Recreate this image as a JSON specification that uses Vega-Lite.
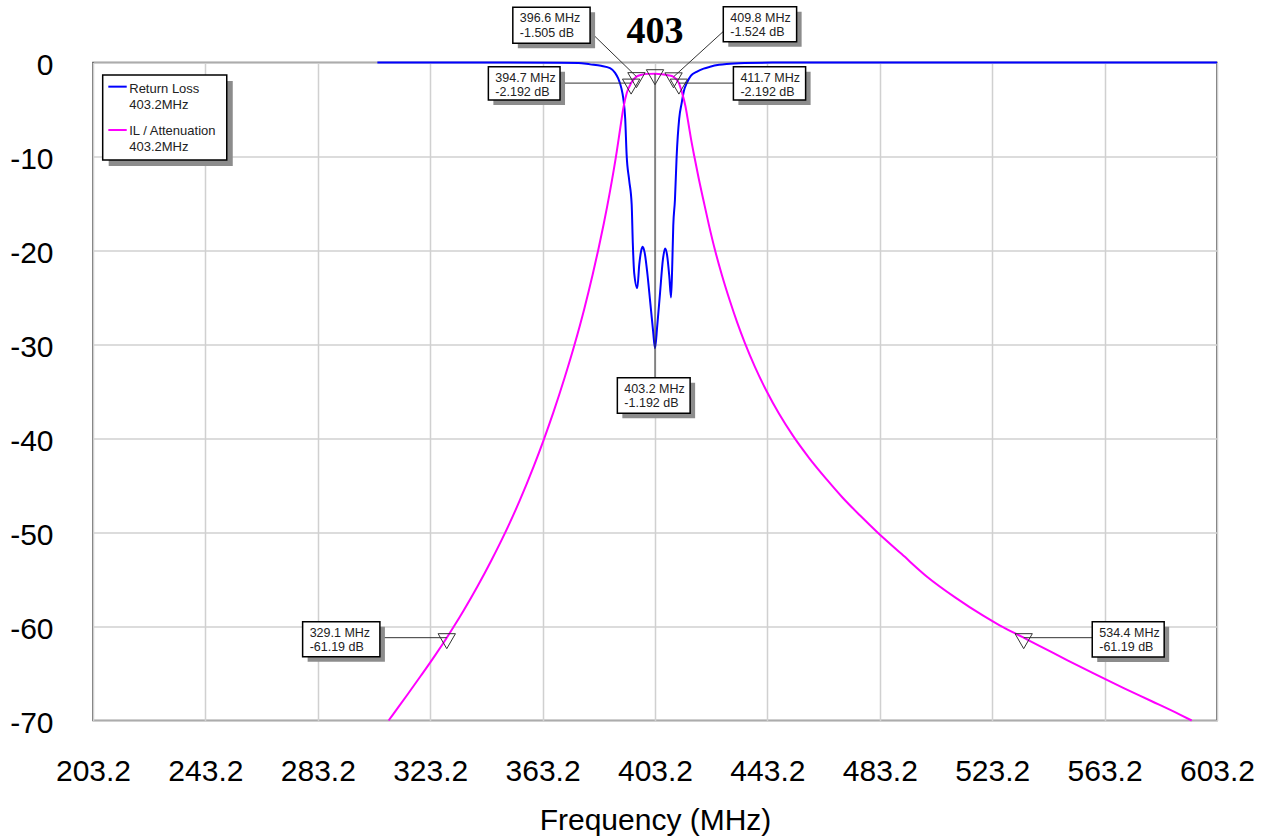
{
  "$schema": "https://vega.github.io/schema/vega-lite/v6.json",
  "width": 1124,
  "height": 658,
  "autosize": {"type": "none"},
  "padding": {"left": 93, "top": 62.5, "right": 54, "bottom": 118.5},
  "background": "white",
  "title": {"text": "403", "font": "Liberation Serif", "fontSize": 38, "fontWeight": "bold", "color": "black", "anchor": "middle", "frame": "group", "offset": -45},
  "config": {
    "view": {"stroke": "#404040", "strokeWidth": 1.5},
    "font": "Liberation Sans",
    "axisX": {"titleFontSize": 30, "titleFontWeight": "normal", "titleColor": "black", "titleFont": "Liberation Sans", "titlePadding": 19, "labelFontSize": 30, "labelFont": "Liberation Sans", "labelColor": "black", "labelPadding": 36, "labelFlush": false, "labelOverlap": false, "ticks": false, "domain": false, "grid": true, "gridColor": "#d0d0d0", "gridWidth": 1.5},
    "axisY": {"labelFontSize": 30, "labelFont": "Liberation Sans", "labelColor": "black", "labelPadding": 40, "labelOffset": 3, "labelOverlap": false, "ticks": false, "domain": false, "grid": true, "gridColor": "#d0d0d0", "gridWidth": 1.5}
  },
  "datasets": {
    "curves": [
      {"series": "Return Loss", "f": 304.4, "db": 0},
      {"series": "Return Loss", "f": 370.0, "db": -0.02},
      {"series": "Return Loss", "f": 376.0, "db": -0.05},
      {"series": "Return Loss", "f": 380.1, "db": -0.2},
      {"series": "Return Loss", "f": 384.0, "db": -0.35},
      {"series": "Return Loss", "f": 387.2, "db": -0.6},
      {"series": "Return Loss", "f": 389.0, "db": -1.1},
      {"series": "Return Loss", "f": 390.1, "db": -1.7},
      {"series": "Return Loss", "f": 391.2, "db": -2.7},
      {"series": "Return Loss", "f": 391.9, "db": -3.8},
      {"series": "Return Loss", "f": 392.6, "db": -6.0},
      {"series": "Return Loss", "f": 393.1, "db": -9.8},
      {"series": "Return Loss", "f": 394.0, "db": -12.5},
      {"series": "Return Loss", "f": 394.9, "db": -15.1},
      {"series": "Return Loss", "f": 395.3, "db": -19.2},
      {"series": "Return Loss", "f": 395.8, "db": -22.4},
      {"series": "Return Loss", "f": 396.9, "db": -24.0},
      {"series": "Return Loss", "f": 397.6, "db": -21.5},
      {"series": "Return Loss", "f": 398.3, "db": -20.0},
      {"series": "Return Loss", "f": 398.8, "db": -19.6},
      {"series": "Return Loss", "f": 399.5, "db": -20.2},
      {"series": "Return Loss", "f": 400.5, "db": -22.5},
      {"series": "Return Loss", "f": 401.5, "db": -25.5},
      {"series": "Return Loss", "f": 402.5, "db": -28.5},
      {"series": "Return Loss", "f": 403.2, "db": -30.4},
      {"series": "Return Loss", "f": 404.0, "db": -28.0},
      {"series": "Return Loss", "f": 405.0, "db": -24.5},
      {"series": "Return Loss", "f": 406.0, "db": -21.0},
      {"series": "Return Loss", "f": 406.8, "db": -19.8},
      {"series": "Return Loss", "f": 407.5, "db": -20.5},
      {"series": "Return Loss", "f": 408.3, "db": -22.8},
      {"series": "Return Loss", "f": 408.9, "db": -25.0},
      {"series": "Return Loss", "f": 409.3, "db": -22.0},
      {"series": "Return Loss", "f": 409.7, "db": -17.4},
      {"series": "Return Loss", "f": 410.3, "db": -14.6},
      {"series": "Return Loss", "f": 410.9, "db": -10.0},
      {"series": "Return Loss", "f": 411.8, "db": -6.0},
      {"series": "Return Loss", "f": 412.7, "db": -4.3},
      {"series": "Return Loss", "f": 413.5, "db": -3.0},
      {"series": "Return Loss", "f": 414.5, "db": -2.2},
      {"series": "Return Loss", "f": 416.0, "db": -1.4},
      {"series": "Return Loss", "f": 418.0, "db": -1.0},
      {"series": "Return Loss", "f": 420.5, "db": -0.65},
      {"series": "Return Loss", "f": 422.8, "db": -0.45},
      {"series": "Return Loss", "f": 426.0, "db": -0.25},
      {"series": "Return Loss", "f": 428.7, "db": -0.15},
      {"series": "Return Loss", "f": 435.0, "db": -0.05},
      {"series": "Return Loss", "f": 445.0, "db": -0.01},
      {"series": "Return Loss", "f": 603.2, "db": 0},
      {"series": "IL / Attenuation", "f": 308.4, "db": -70.0},
      {"series": "IL / Attenuation", "f": 310.0, "db": -69.34},
      {"series": "IL / Attenuation", "f": 315.0, "db": -67.29},
      {"series": "IL / Attenuation", "f": 320.0, "db": -65.19},
      {"series": "IL / Attenuation", "f": 325.0, "db": -63.04},
      {"series": "IL / Attenuation", "f": 329.1, "db": -61.19},
      {"series": "IL / Attenuation", "f": 331.5, "db": -60.06},
      {"series": "IL / Attenuation", "f": 335.0, "db": -58.35},
      {"series": "IL / Attenuation", "f": 340.0, "db": -55.75},
      {"series": "IL / Attenuation", "f": 345.0, "db": -52.95},
      {"series": "IL / Attenuation", "f": 349.8, "db": -50.07},
      {"series": "IL / Attenuation", "f": 355.0, "db": -46.64},
      {"series": "IL / Attenuation", "f": 360.0, "db": -42.99},
      {"series": "IL / Attenuation", "f": 363.5, "db": -40.22},
      {"series": "IL / Attenuation", "f": 367.0, "db": -37.25},
      {"series": "IL / Attenuation", "f": 371.0, "db": -33.57},
      {"series": "IL / Attenuation", "f": 374.7, "db": -29.87},
      {"series": "IL / Attenuation", "f": 378.0, "db": -26.24},
      {"series": "IL / Attenuation", "f": 381.0, "db": -22.58},
      {"series": "IL / Attenuation", "f": 383.0, "db": -19.94},
      {"series": "IL / Attenuation", "f": 385.0, "db": -17.1},
      {"series": "IL / Attenuation", "f": 387.0, "db": -14.0},
      {"series": "IL / Attenuation", "f": 389.6, "db": -9.45},
      {"series": "IL / Attenuation", "f": 390.8, "db": -7.05},
      {"series": "IL / Attenuation", "f": 391.9, "db": -4.9},
      {"series": "IL / Attenuation", "f": 393.2, "db": -3.2},
      {"series": "IL / Attenuation", "f": 394.7, "db": -2.192},
      {"series": "IL / Attenuation", "f": 396.6, "db": -1.505},
      {"series": "IL / Attenuation", "f": 398.5, "db": -1.3},
      {"series": "IL / Attenuation", "f": 400.7, "db": -1.21},
      {"series": "IL / Attenuation", "f": 403.2, "db": -1.192},
      {"series": "IL / Attenuation", "f": 405.7, "db": -1.24},
      {"series": "IL / Attenuation", "f": 407.9, "db": -1.36},
      {"series": "IL / Attenuation", "f": 409.8, "db": -1.524},
      {"series": "IL / Attenuation", "f": 411.7, "db": -2.192},
      {"series": "IL / Attenuation", "f": 412.9, "db": -3.3},
      {"series": "IL / Attenuation", "f": 414.0, "db": -4.6},
      {"series": "IL / Attenuation", "f": 415.0, "db": -6.3},
      {"series": "IL / Attenuation", "f": 416.0, "db": -8.1},
      {"series": "IL / Attenuation", "f": 417.2, "db": -10.0},
      {"series": "IL / Attenuation", "f": 418.8, "db": -12.4},
      {"series": "IL / Attenuation", "f": 420.4, "db": -14.6},
      {"series": "IL / Attenuation", "f": 422.4, "db": -17.3},
      {"series": "IL / Attenuation", "f": 424.5, "db": -19.9},
      {"series": "IL / Attenuation", "f": 427.0, "db": -22.6},
      {"series": "IL / Attenuation", "f": 429.9, "db": -25.4},
      {"series": "IL / Attenuation", "f": 432.5, "db": -27.7},
      {"series": "IL / Attenuation", "f": 435.2, "db": -29.85},
      {"series": "IL / Attenuation", "f": 438.8, "db": -32.4},
      {"series": "IL / Attenuation", "f": 442.9, "db": -34.95},
      {"series": "IL / Attenuation", "f": 447.3, "db": -37.35},
      {"series": "IL / Attenuation", "f": 452.4, "db": -39.75},
      {"series": "IL / Attenuation", "f": 458.0, "db": -42.05},
      {"series": "IL / Attenuation", "f": 464.3, "db": -44.35},
      {"series": "IL / Attenuation", "f": 470.0, "db": -46.3},
      {"series": "IL / Attenuation", "f": 476.2, "db": -48.2},
      {"series": "IL / Attenuation", "f": 482.4, "db": -50.0},
      {"series": "IL / Attenuation", "f": 491.0, "db": -52.3},
      {"series": "IL / Attenuation", "f": 500.0, "db": -54.7},
      {"series": "IL / Attenuation", "f": 510.0, "db": -56.9},
      {"series": "IL / Attenuation", "f": 520.0, "db": -58.85},
      {"series": "IL / Attenuation", "f": 526.0, "db": -59.9},
      {"series": "IL / Attenuation", "f": 534.4, "db": -61.19},
      {"series": "IL / Attenuation", "f": 540.0, "db": -62.05},
      {"series": "IL / Attenuation", "f": 550.0, "db": -63.6},
      {"series": "IL / Attenuation", "f": 560.0, "db": -65.1},
      {"series": "IL / Attenuation", "f": 570.0, "db": -66.55},
      {"series": "IL / Attenuation", "f": 580.0, "db": -67.95},
      {"series": "IL / Attenuation", "f": 590.0, "db": -69.37},
      {"series": "IL / Attenuation", "f": 594.2, "db": -70.0}
    ],
    "markers": [
      {"f": 396.6, "db": -1.505, "label": "396.6 MHz\n-1.505 dB", "bf": 352.6, "bf2": 380.1, "bd": 5.87, "bd2": 2.04, "lf": 380.1, "ld": 3.28},
      {"f": 409.8, "db": -1.524, "label": "409.8 MHz\n-1.524 dB", "bf": 427.5, "bf2": 453.6, "bd": 5.94, "bd2": 2.21, "lf": 427.5, "ld": 3.3},
      {"f": 394.7, "db": -2.192, "label": "394.7 MHz\n-2.192 dB", "bf": 343.9, "bf2": 369.4, "bd": -0.45, "bd2": -4.0, "lf": 369.4, "ld": -2.192},
      {"f": 411.7, "db": -2.192, "label": "411.7 MHz\n-2.192 dB", "bf": 431.1, "bf2": 456.8, "bd": -0.45, "bd2": -4.0, "lf": 431.1, "ld": -2.192},
      {"f": 403.2, "db": -1.192, "label": "403.2 MHz\n-1.192 dB", "bf": 389.8, "bf2": 415.7, "bd": -33.53, "bd2": -37.32, "lf": 403.2, "ld": -33.53},
      {"f": 329.1, "db": -61.19, "label": "329.1 MHz\n-61.19 dB", "bf": 277.8, "bf2": 305.3, "bd": -59.49, "bd2": -63.21, "lf": 305.3, "ld": -61.19},
      {"f": 534.4, "db": -61.19, "label": "534.4 MHz\n-61.19 dB", "bf": 558.8, "bf2": 584.4, "bd": -59.49, "bd2": -63.25, "lf": 558.8, "ld": -61.19}
    ],
    "legendBox": [
      {"bf": 206.65, "bf2": 250.8, "bd": -1.33, "bd2": -10.37}
    ],
    "legendItems": [
      {"series": "Return Loss", "f": 208.65, "f2": 215.2, "db": -2.57, "tf": 216.1, "td": -2.13, "label": "Return Loss\n403.2MHz"},
      {"series": "IL / Attenuation", "f": 208.65, "f2": 215.2, "db": -7.18, "tf": 216.1, "td": -6.67, "label": "IL / Attenuation\n403.2MHz"}
    ]
  },
  "layer": [
    {
      "data": {"name": "curves"},
      "mark": {"type": "line", "strokeWidth": 2, "interpolate": "monotone"},
      "encoding": {
        "x": {"field": "f", "type": "quantitative", "title": "Frequency (MHz)", "scale": {"domain": [203.2, 603.2], "nice": false, "zero": false},
          "axis": {"values": [203.2, 243.2, 283.2, 323.2, 363.2, 403.2, 443.2, 483.2, 523.2, 563.2, 603.2], "format": ".1f"}},
        "y": {"field": "db", "type": "quantitative", "title": null, "scale": {"domain": [-70, 0], "nice": false, "zero": false},
          "axis": {"values": [0, -10, -20, -30, -40, -50, -60, -70], "labelExpr": "'' + datum.value"}},
        "color": {"field": "series", "type": "nominal", "scale": {"domain": ["Return Loss", "IL / Attenuation"], "range": ["#0000ff", "#ff00ff"]}, "legend": null}
      }
    },
    {
      "data": {"name": "markers"},
      "mark": {"type": "rule", "color": "#333333", "strokeWidth": 1},
      "encoding": {
        "x": {"field": "f", "type": "quantitative", "title": "Frequency (MHz)", "scale": {"domain": [203.2, 603.2], "nice": false, "zero": false}},
        "y": {"field": "db", "type": "quantitative", "title": null, "scale": {"domain": [-70, 0], "nice": false, "zero": false}},
        "x2": {"field": "lf"},
        "y2": {"field": "ld"}
      }
    },
    {
      "data": {"name": "markers"},
      "mark": {"type": "point", "shape": "triangle-down", "size": 300, "filled": false, "stroke": "#333333", "strokeWidth": 1, "opacity": 1, "yOffset": 3.5},
      "encoding": {
        "x": {"field": "f", "type": "quantitative", "title": "Frequency (MHz)", "scale": {"domain": [203.2, 603.2], "nice": false, "zero": false}},
        "y": {"field": "db", "type": "quantitative", "title": null, "scale": {"domain": [-70, 0], "nice": false, "zero": false}}
      }
    },
    {
      "data": {"name": "markers"},
      "mark": {"type": "rect", "fill": "#8c8c8c", "xOffset": 5, "x2Offset": 5, "yOffset": 5, "y2Offset": 5},
      "encoding": {
        "x": {"field": "bf", "type": "quantitative", "title": "Frequency (MHz)", "scale": {"domain": [203.2, 603.2], "nice": false, "zero": false}},
        "x2": {"field": "bf2"},
        "y": {"field": "bd", "type": "quantitative", "title": null, "scale": {"domain": [-70, 0], "nice": false, "zero": false}},
        "y2": {"field": "bd2"}
      }
    },
    {
      "data": {"name": "markers"},
      "mark": {"type": "rect", "fill": "white", "stroke": "black", "strokeWidth": 1.5},
      "encoding": {
        "x": {"field": "bf", "type": "quantitative", "title": "Frequency (MHz)", "scale": {"domain": [203.2, 603.2], "nice": false, "zero": false}},
        "x2": {"field": "bf2"},
        "y": {"field": "bd", "type": "quantitative", "title": null, "scale": {"domain": [-70, 0], "nice": false, "zero": false}},
        "y2": {"field": "bd2"}
      }
    },
    {
      "data": {"name": "markers"},
      "mark": {"type": "text", "align": "left", "baseline": "top", "dx": 7, "dy": 5, "fontSize": 12.5, "font": "Liberation Sans", "color": "#222222", "lineBreak": "\n", "lineHeight": 14.5},
      "encoding": {
        "x": {"field": "bf", "type": "quantitative", "title": "Frequency (MHz)", "scale": {"domain": [203.2, 603.2], "nice": false, "zero": false}},
        "y": {"field": "bd", "type": "quantitative", "title": null, "scale": {"domain": [-70, 0], "nice": false, "zero": false}},
        "text": {"field": "label"}
      }
    },
    {
      "data": {"name": "legendBox"},
      "mark": {"type": "rect", "fill": "#8c8c8c", "xOffset": 6, "x2Offset": 6, "yOffset": 6, "y2Offset": 6},
      "encoding": {
        "x": {"field": "bf", "type": "quantitative", "title": "Frequency (MHz)", "scale": {"domain": [203.2, 603.2], "nice": false, "zero": false}},
        "x2": {"field": "bf2"},
        "y": {"field": "bd", "type": "quantitative", "title": null, "scale": {"domain": [-70, 0], "nice": false, "zero": false}},
        "y2": {"field": "bd2"}
      }
    },
    {
      "data": {"name": "legendBox"},
      "mark": {"type": "rect", "fill": "white", "stroke": "black", "strokeWidth": 1.5},
      "encoding": {
        "x": {"field": "bf", "type": "quantitative", "title": "Frequency (MHz)", "scale": {"domain": [203.2, 603.2], "nice": false, "zero": false}},
        "x2": {"field": "bf2"},
        "y": {"field": "bd", "type": "quantitative", "title": null, "scale": {"domain": [-70, 0], "nice": false, "zero": false}},
        "y2": {"field": "bd2"}
      }
    },
    {
      "data": {"name": "legendItems"},
      "mark": {"type": "rule", "strokeWidth": 2},
      "encoding": {
        "x": {"field": "f", "type": "quantitative", "title": "Frequency (MHz)", "scale": {"domain": [203.2, 603.2], "nice": false, "zero": false}},
        "x2": {"field": "f2"},
        "y": {"field": "db", "type": "quantitative", "title": null, "scale": {"domain": [-70, 0], "nice": false, "zero": false}},
        "color": {"field": "series", "type": "nominal", "scale": {"domain": ["Return Loss", "IL / Attenuation"], "range": ["#0000ff", "#ff00ff"]}, "legend": null}
      }
    },
    {
      "data": {"name": "legendItems"},
      "mark": {"type": "text", "align": "left", "baseline": "top", "fontSize": 13, "font": "Liberation Sans", "color": "#222222", "lineBreak": "\n", "lineHeight": 16},
      "encoding": {
        "x": {"field": "tf", "type": "quantitative", "title": "Frequency (MHz)", "scale": {"domain": [203.2, 603.2], "nice": false, "zero": false}},
        "y": {"field": "td", "type": "quantitative", "title": null, "scale": {"domain": [-70, 0], "nice": false, "zero": false}},
        "text": {"field": "label"}
      }
    }
  ]
}
